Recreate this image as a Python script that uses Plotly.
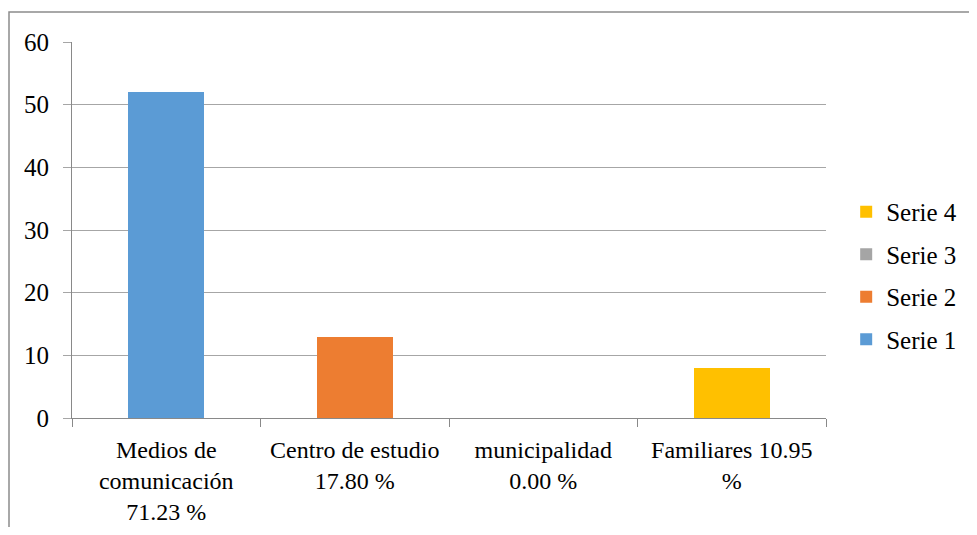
import plotly.graph_objects as go

categories = ["Medios de<br>comunicación<br>71.23 %", "Centro de estudio<br>17.80 %",
              "municipalidad<br>0.00 %", "Familiares 10.95<br>%"]
series_names = ["Serie 1", "Serie 2", "Serie 3", "Serie 4"]
serie1 = [52, None, None, None]
serie2 = [None, 13, None, None]
serie3 = [None, None, 0, None]
serie4 = [None, None, None, 8]
colors = ["#5B9BD5", "#ED7D31", "#A5A5A5", "#FFC000"]
y_ticks = [0, 10, 20, 30, 40, 50, 60]

FONT = "Liberation Serif"
FS = 25
fig = go.Figure()
for i, (name, vals, c) in enumerate(zip(series_names, [serie1, serie2, serie3, serie4], colors)):
    fig.add_trace(go.Bar(x=categories, y=vals, name=name, marker=dict(color=c, line=dict(width=0)),
                         width=0.403, legendgroup=name, legendrank=len(series_names) - i))

fig.update_layout(
    width=969, height=519,
    margin=dict(l=64, r=151, t=34, b=109),
    barmode="stack",
    plot_bgcolor="white", paper_bgcolor="white",
    font=dict(family=FONT, size=FS, color="black"),
    showlegend=True,
    legend=dict(xref="container", yref="container", x=0.865, y=0.4846,
                xanchor="left", yanchor="middle", traceorder="grouped",
                font=dict(family=FONT, size=FS), tracegroupgap=7,
                itemwidth=30, bgcolor="rgba(0,0,0,0)"),
    xaxis=dict(showline=True, linecolor="#898989", linewidth=1, ticks="outside",
               tickson="boundaries", ticklen=8, tickcolor="#898989", showgrid=False,
               ticklabelstandoff=10, tickangle=0, automargin=False,
               tickfont=dict(family=FONT, size=24)),
    yaxis=dict(range=[0, 60], tickvals=y_ticks, showline=True, linecolor="#898989",
               ticks="outside", ticklen=8, tickcolor="#a6a6a6", gridcolor="#a6a6a6",
               ticklabelstandoff=9, automargin=False,
               zeroline=False, tickfont=dict(family=FONT, size=FS)),
    shapes=[dict(type="rect", xref="paper", yref="paper",
                 x0=-63/754, x1=1.5, y0=-1, y1=1 + 30/376,
                 line=dict(color="#8c8c8c", width=1.5), layer="below")],
)
fig.write_html("out.html")
